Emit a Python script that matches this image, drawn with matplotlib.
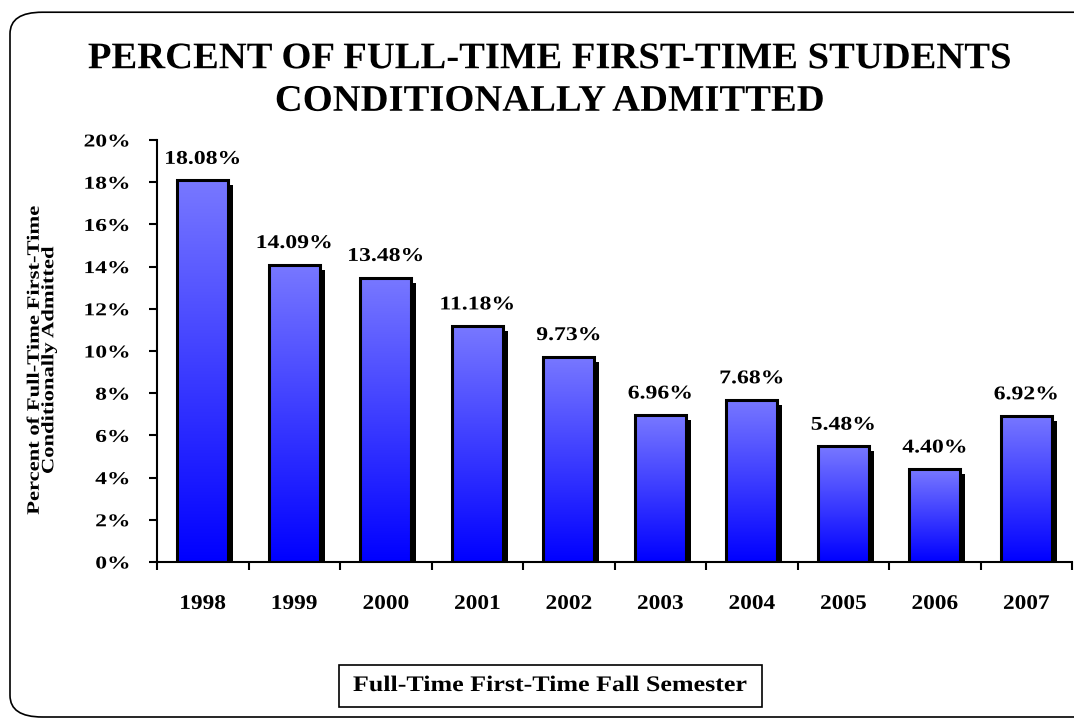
import numpy as np
import matplotlib.pyplot as plt
from matplotlib.patches import FancyBboxPatch, Rectangle
from matplotlib.patheffects import AbstractPathEffect
from matplotlib.transforms import ScaledTranslation, Affine2D
from matplotlib.colors import LinearSegmentedColormap

years = ["1998", "1999", "2000", "2001", "2002", "2003", "2004", "2005", "2006", "2007"]
percents = [18.08, 14.09, 13.48, 11.18, 9.73, 6.96, 7.68, 5.48, 4.40, 6.92]
y_ticks = [0, 2, 4, 6, 8, 10, 12, 14, 16, 18, 20]


class Stretch(AbstractPathEffect):
    """widen text along its own direction, the old slide font is wide"""

    def __init__(self, s, anchor="center", vertical=False):
        super().__init__()
        self.s = s
        self.anchor = anchor
        self.vertical = vertical

    def draw_path(self, renderer, gc, tpath, affine, rgbFace=None):
        ext = tpath.get_extents(affine)
        if self.vertical:
            c = (ext.y0 + ext.y1) / 2
            t = affine + Affine2D().translate(0, -c).scale(1, self.s).translate(0, c)
        else:
            c = ext.x1 if self.anchor == "right" else (ext.x0 + ext.x1) / 2
            t = affine + Affine2D().translate(-c, 0).scale(self.s, 1).translate(c, 0)
        renderer.draw_path(gc, tpath, t, rgbFace)


plt.rcParams['font.family'] = ['Liberation Serif', 'DejaVu Serif']
plt.rcParams['font.weight'] = 'bold'

fig = plt.figure(figsize=(10.74, 7.19), dpi=100)
ax = fig.add_axes([0.1462, 0.2184, 0.852, 0.5869])

# rounded frame round the whole slide
frame = FancyBboxPatch((10 / 1074, 2 / 719), 1.2, 0.983 - 2 / 719,
                       boxstyle="round,pad=0,rounding_size=0.03",
                       transform=fig.transFigure, fill=False, lw=1.2,
                       ec="black", clip_on=False)
fig.patches.append(frame)

x = np.arange(len(years))
width = 0.56

# drop shadow
shadow = ax.bar(x, percents, width, color="black", zorder=1)
off = ScaledTranslation(5 / 100, -5 / 100, fig.dpi_scale_trans)
for s in shadow:
    s.set_transform(ax.transData + off)

bars = ax.bar(x, percents, width, facecolor="none", edgecolor="black",
              linewidth=2.2, zorder=3)

cmap = LinearSegmentedColormap.from_list("blu", ["#0000ff", "#7878ff"])
grad = np.linspace(0, 1, 256).reshape(-1, 1)
for b in bars:
    x0, y0 = b.get_x(), b.get_y()
    im = ax.imshow(grad, cmap=cmap, origin="lower", aspect="auto",
                   extent=[x0, x0 + b.get_width(), y0, y0 + b.get_height()],
                   zorder=2)
    im.set_clip_path(b)

for xi, v in zip(x, percents):
    ax.annotate(f"{v:.2f}%", (xi, v), xytext=(0, 12), textcoords="offset points",
                ha="center", va="baseline", fontsize=14, fontweight="bold",
                path_effects=[Stretch(1.22)])

ax.set_xlim(-0.5, 9.5)
ax.set_ylim(0, 20)
ax.set_yticks(y_ticks)
ax.set_yticklabels([f"{t}%" for t in y_ticks], fontsize=13, fontweight="bold",
                   path_effects=[Stretch(1.3, anchor="right")])
ax.set_xticks(np.arange(-0.5, 10, 1))
ax.set_xticklabels([])
ax.set_xticks(x, minor=True)
ax.set_xticklabels(years, minor=True, fontsize=15, fontweight="bold",
                   path_effects=[Stretch(1.12)])
ax.tick_params(axis="x", which="minor", length=0, pad=23)
ax.tick_params(axis="x", which="major", length=6, width=1.5, direction="out")
ax.tick_params(axis="y", length=6, width=1.5, direction="out", pad=13.5)
for sp in ["top", "right"]:
    ax.spines[sp].set_visible(False)
ax.spines["left"].set_linewidth(1.5)
ax.spines["bottom"].set_linewidth(1.5)

ax.set_ylabel("Percent of Full-Time First-Time\nConditionally Admitted",
              fontsize=12.5, fontweight="bold", linespacing=0.88,
              path_effects=[Stretch(1.3, vertical=True)])
ax.yaxis.set_label_coords(-0.109, 0.479)

fig.text(0.512, 1 - 80 / 719,
         "PERCENT OF FULL-TIME FIRST-TIME STUDENTS\nCONDITIONALLY ADMITTED",
         ha="center", va="center", fontsize=27, fontweight="bold", linespacing=1.28,
         path_effects=[Stretch(1.03)])

# caption box under the chart
fig.patches.append(Rectangle((339 / 1074, 1 - 707 / 719), 423 / 1074, 42 / 719,
                             transform=fig.transFigure, fill=False, ec="black", lw=1.2))
fig.text(550.5 / 1074, 1 - 686 / 719, "Full-Time First-Time Fall Semester", ha="center",
         va="center", fontsize=16, fontweight="bold", path_effects=[Stretch(1.17)])

fig.savefig("out.png", dpi=100)
